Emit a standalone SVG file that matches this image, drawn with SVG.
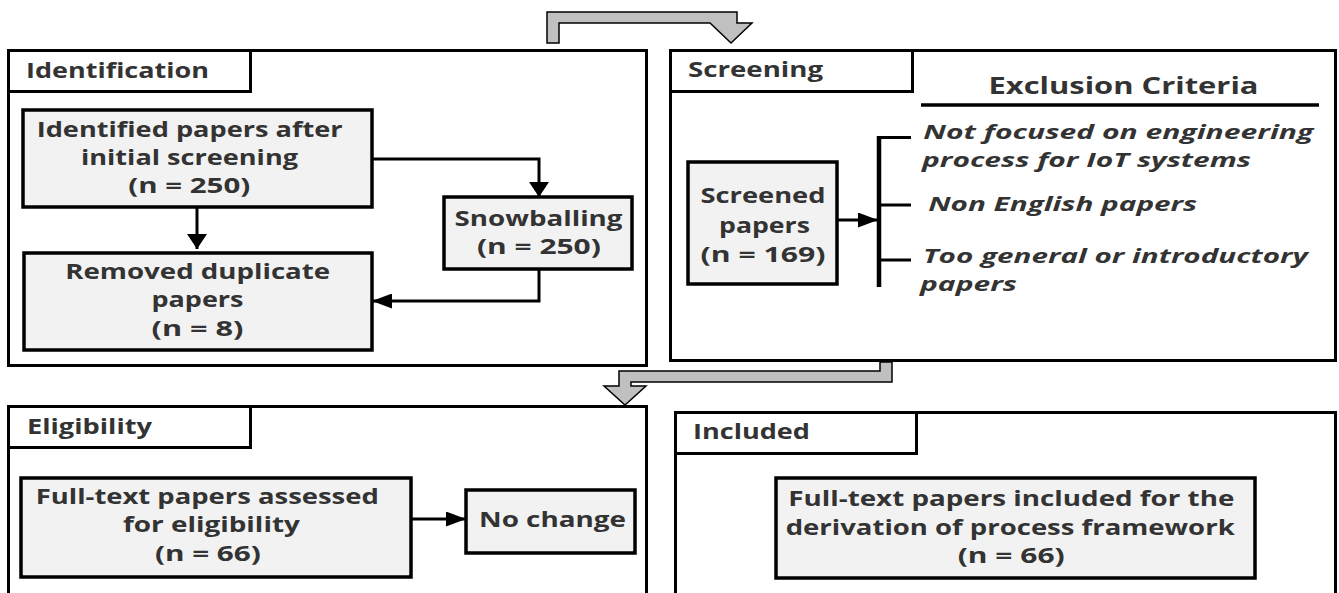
<svg xmlns="http://www.w3.org/2000/svg" width="1339" height="593" viewBox="0 0 1339 593">
<defs>
<marker id="ah" viewBox="0 0 20 15" refX="20" refY="7.5" markerWidth="20" markerHeight="15" markerUnits="userSpaceOnUse" orient="auto">
<path d="M0,0 L20,7.5 L0,15 Z" fill="#000"/>
</marker>
<marker id="av" viewBox="0 0 15 20" refX="15" refY="10" markerWidth="15" markerHeight="20" markerUnits="userSpaceOnUse" orient="auto">
<path d="M0,0 L15,10 L0,20 Z" fill="#000"/>
</marker>
<style>
.outer{fill:#fff;stroke:#000;stroke-width:3}
.tab{fill:#fff;stroke:#000;stroke-width:3}
.box{fill:#f2f2f2;stroke:#000;stroke-width:3.5}
.t,.h{font-family:"Open Sans","Noto Sans","DejaVu Sans",sans-serif;font-weight:700;font-size:21px;fill:#333}
.i{font-family:"Open Sans","Noto Sans","DejaVu Sans",sans-serif;font-weight:700;font-style:italic;font-size:20px;fill:#333}
.x{font-family:"Open Sans","Noto Sans","DejaVu Sans",sans-serif;font-weight:700;font-size:23px;fill:#333}
.c{fill:none;stroke:#000;stroke-width:3}
.ga{fill:#c0c0c0;stroke:#000;stroke-width:1.5;stroke-linejoin:miter}
</style>
</defs>

<g id="identification">
<rect class="outer" x="8.5" y="50.5" width="638" height="315"/>
<rect class="tab" x="8.5" y="50.5" width="242" height="41"/>
<text class="h" x="26" y="78" textLength="183" lengthAdjust="spacingAndGlyphs">Identification</text>
</g>

<g id="screening">
<rect class="outer" x="670.5" y="50.5" width="665" height="310"/>
<rect class="tab" x="670.5" y="50.5" width="242" height="41"/>
<text class="h" x="688" y="77" textLength="135" lengthAdjust="spacingAndGlyphs">Screening</text>
<text class="x" x="988.5" y="94" textLength="270" lengthAdjust="spacingAndGlyphs">Exclusion Criteria</text>
<line x1="921" y1="105" x2="1319" y2="105" stroke="#000" stroke-width="3.5"/>
</g>

<g id="eligibility">
<rect class="outer" x="8.5" y="406.5" width="638" height="200"/>
<rect class="tab" x="8.5" y="406.5" width="242" height="41"/>
<text class="h" x="27" y="434" textLength="125" lengthAdjust="spacingAndGlyphs">Eligibility</text>
</g>

<g id="included">
<rect class="outer" x="675.5" y="412.5" width="660" height="200"/>
<rect class="tab" x="675.5" y="412.5" width="241" height="41"/>
<text class="h" x="693" y="439" textLength="117" lengthAdjust="spacingAndGlyphs">Included</text>
</g>

<g id="identified">
<rect class="box" x="23" y="110" width="349" height="97"/>
<text class="t" x="36.7" y="137" textLength="306" lengthAdjust="spacingAndGlyphs">Identified papers after</text>
<text class="t" x="81" y="165" textLength="217" lengthAdjust="spacingAndGlyphs">initial screening</text>
<text class="t" x="128.3" y="193" textLength="122" lengthAdjust="spacingAndGlyphs">(n = 250)</text>
</g>

<g id="removed">
<rect class="box" x="24" y="253" width="348" height="97"/>
<text class="t" x="65.2" y="279" textLength="265" lengthAdjust="spacingAndGlyphs">Removed duplicate</text>
<text class="t" x="151.5" y="307" textLength="92" lengthAdjust="spacingAndGlyphs">papers</text>
<text class="t" x="151.5" y="336" textLength="92" lengthAdjust="spacingAndGlyphs">(n = 8)</text>
</g>

<g id="snowballing">
<rect class="box" x="444" y="197" width="188" height="72"/>
<text class="t" x="454.5" y="226" textLength="168" lengthAdjust="spacingAndGlyphs">Snowballing</text>
<text class="t" x="476.9" y="254" textLength="124" lengthAdjust="spacingAndGlyphs">(n = 250)</text>
</g>

<g id="screened">
<rect class="box" x="688" y="162" width="149" height="122"/>
<text class="t" x="700.5" y="203" textLength="125" lengthAdjust="spacingAndGlyphs">Screened</text>
<text class="t" x="719" y="233" textLength="91" lengthAdjust="spacingAndGlyphs">papers</text>
<text class="t" x="700.5" y="262" textLength="125" lengthAdjust="spacingAndGlyphs">(n = 169)</text>
</g>

<g id="criteria">
<text class="i" x="923.3" y="138.5" textLength="390" lengthAdjust="spacingAndGlyphs">Not focused on engineering</text>
<text class="i" x="922" y="167" textLength="329" lengthAdjust="spacingAndGlyphs">process for IoT systems</text>
<text class="i" x="928.2" y="211" textLength="269" lengthAdjust="spacingAndGlyphs">Non English papers</text>
<text class="i" x="922.9" y="263" textLength="385" lengthAdjust="spacingAndGlyphs">Too general or introductory</text>
<text class="i" x="920" y="291" textLength="97" lengthAdjust="spacingAndGlyphs">papers</text>
</g>

<g id="assessed">
<rect class="box" x="21" y="478" width="390" height="99"/>
<text class="t" x="35.8" y="504" textLength="343" lengthAdjust="spacingAndGlyphs">Full-text papers assessed</text>
<text class="t" x="122.9" y="532" textLength="177" lengthAdjust="spacingAndGlyphs">for eligibility</text>
<text class="t" x="154.9" y="561" textLength="106" lengthAdjust="spacingAndGlyphs">(n = 66)</text>
</g>

<g id="nochange">
<rect class="box" x="466" y="490" width="169" height="63"/>
<text class="t" x="479" y="527" textLength="147" lengthAdjust="spacingAndGlyphs">No change</text>
</g>

<g id="final">
<rect class="box" x="776" y="478" width="479" height="100"/>
<text class="t" x="788.3" y="506" textLength="446" lengthAdjust="spacingAndGlyphs">Full-text papers included for the</text>
<text class="t" x="785.7" y="535" textLength="449" lengthAdjust="spacingAndGlyphs">derivation of process framework</text>
<text class="t" x="957.7" y="563" textLength="107" lengthAdjust="spacingAndGlyphs">(n = 66)</text>
</g>

<g id="connectors">
<polygon class="ga" points="547,43 547,12 737,12 737,23 752,23 731,43 710,23 559,23 559,43"/>
<polygon class="ga" points="880,362 880,371 619,371 619,386 604,386 625,405 646,386 631,386 631,382 892,382 892,362"/>
<path class="c" d="M197,207 V249" marker-end="url(#av)"/>
<path class="c" d="M372,159 H539 V197" marker-end="url(#av)"/>
<path class="c" d="M539,269 V301 H372" marker-end="url(#ah)"/>
<path class="c" d="M837,220 H878" marker-end="url(#ah)"/>
<path class="c" d="M411,519 H466" marker-end="url(#ah)"/>
<line x1="879" y1="136" x2="879" y2="287" stroke="#000" stroke-width="4.5"/>
<path class="c" d="M879,137.5 H911 M879,205 H911 M879,260 H911"/>
</g>
</svg>
